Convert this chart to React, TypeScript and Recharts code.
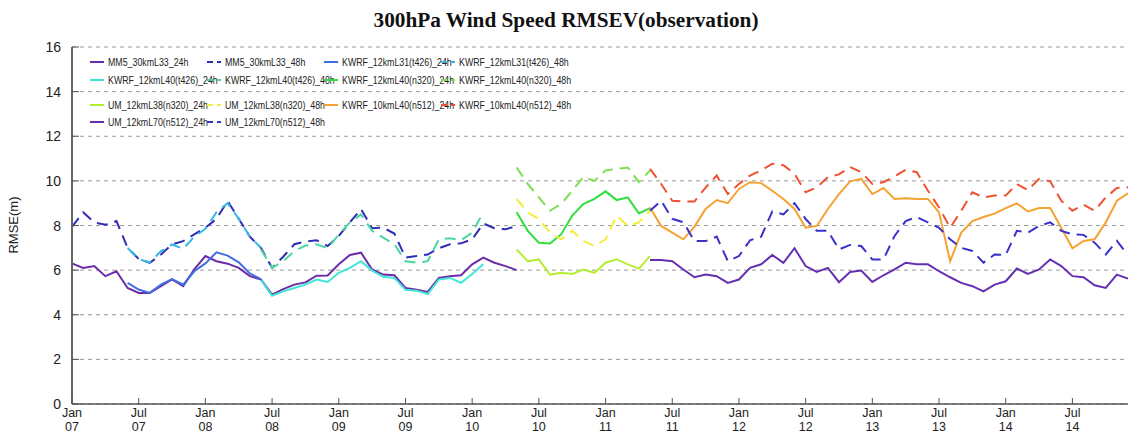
import React from 'react';
import { LineChart, Line, XAxis, YAxis, CartesianGrid } from 'recharts';

// monthly points, Jan 2007 (0) .. Dec 2014 (95)
const monthCount = 96;
const xTicks = [0, 6, 12, 18, 24, 30, 36, 42, 48, 54, 60, 66, 72, 78, 84, 90];
const xTickMonth = ['Jan', 'Jul', 'Jan', 'Jul', 'Jan', 'Jul', 'Jan', 'Jul', 'Jan', 'Jul', 'Jan', 'Jul', 'Jan', 'Jul', 'Jan', 'Jul'];
const xTickYear = ['07', '07', '08', '08', '09', '09', '10', '10', '11', '11', '12', '12', '13', '13', '14', '14'];
const yTicks = [0, 2, 4, 6, 8, 10, 12, 14, 16];

// each series starts at a month index and runs on
const mm5_24h = [6.3, 6.1, 6.18, 5.73, 5.95, 5.2, 4.98, 4.98, 5.28, 5.58, 5.28, 6.03, 6.63, 6.4, 6.29, 6.1, 5.73, 5.58, 4.9, 5.15, 5.35, 5.45, 5.75, 5.76, 6.26, 6.68, 6.78, 6.03, 5.8, 5.77, 5.2, 5.12, 5.02, 5.65, 5.73, 5.77, 6.26, 6.56, 6.33, 6.18, 6.0];
const mm5_48h = [7.94, 8.59, 8.14, 8.03, 8.2, 7.0, 6.5, 6.33, 6.7, 7.15, 7.3, 7.6, 7.9, 8.3, 9.1, 8.3, 7.5, 7.0, 6.1, 6.6, 7.16, 7.28, 7.34, 7.08, 7.53, 8.14, 8.74, 7.88, 7.9, 7.64, 6.56, 6.63, 6.7, 6.98, 7.16, 7.2, 7.38, 8.09, 7.88, 7.83, 7.98];
const kwrfL31_24h = [5.43, 5.13, 4.98, 5.35, 5.6, 5.35, 5.95, 6.3, 6.8, 6.65, 6.35, 5.85, 5.6];
const kwrfL31_48h = [6.99, 6.5, 6.33, 6.85, 7.15, 6.95, 7.5, 7.85, 8.6, 9.0, 8.3, 7.5, 7.0];
const kwrfL40t_24h = [5.55, 4.85, 5.05, 5.2, 5.35, 5.58, 5.47, 5.88, 6.1, 6.4, 5.98, 5.7, 5.65, 5.12, 5.08, 4.93, 5.58, 5.65, 5.43, 5.83, 6.26];
const kwrfL40t_48h = [6.93, 6.1, 6.4, 6.85, 7.1, 7.16, 6.98, 7.6, 8.14, 8.5, 7.76, 7.46, 7.16, 6.4, 6.33, 6.4, 7.38, 7.43, 7.34, 7.68, 8.59];
const kwrfL40n_24h = [8.59, 7.76, 7.23, 7.19, 7.6, 8.44, 8.96, 9.19, 9.53, 9.14, 9.26, 8.54, 8.78];
const kwrfL40n_48h = [10.6, 9.86, 9.26, 8.66, 8.96, 9.56, 10.17, 10.0, 10.47, 10.54, 10.6, 9.94, 10.47];
const umL38_24h = [6.93, 6.4, 6.48, 5.8, 5.88, 5.83, 6.03, 5.88, 6.33, 6.48, 6.26, 6.07, 6.63];
const umL38_48h = [9.19, 8.59, 8.29, 7.68, 7.38, 7.76, 7.31, 7.08, 7.38, 8.44, 7.98, 8.14, 8.66];
const kwrf10_24h = [8.81, 7.98, 7.68, 7.38, 7.95, 8.74, 9.14, 9.0, 9.64, 9.94, 9.9, 9.56, 9.19, 8.74, 7.9, 7.98, 8.74, 9.41, 9.98, 10.09, 9.41, 9.68, 9.19, 9.22, 9.19, 9.19, 8.59, 6.4, 7.68, 8.2, 8.38, 8.53, 8.78, 8.99, 8.63, 8.78, 8.78, 7.9, 6.98, 7.31, 7.38, 8.14, 9.11, 9.44];
const kwrf10_48h = [10.54, 9.86, 9.11, 9.08, 9.08, 9.7, 10.24, 9.41, 9.86, 10.24, 10.47, 10.77, 10.7, 10.32, 9.49, 9.71, 10.17, 10.29, 10.62, 10.39, 9.86, 9.94, 10.2, 10.5, 10.39, 9.56, 8.81, 7.9, 8.66, 9.49, 9.26, 9.34, 9.34, 9.86, 9.59, 10.09, 9.98, 9.11, 8.66, 8.93, 8.66, 9.26, 9.68, 9.71];
const umL70_24h = [6.45, 6.45, 6.4, 6.03, 5.68, 5.8, 5.73, 5.43, 5.58, 6.1, 6.26, 6.68, 6.33, 6.98, 6.18, 5.92, 6.1, 5.46, 5.92, 5.98, 5.47, 5.77, 6.03, 6.33, 6.26, 6.26, 5.95, 5.68, 5.43, 5.28, 5.05, 5.35, 5.5, 6.07, 5.83, 6.03, 6.48, 6.18, 5.73, 5.68, 5.32, 5.2, 5.8, 5.62];
const umL70_48h = [8.66, 9.11, 8.3, 8.15, 7.3, 7.3, 7.5, 6.4, 6.63, 7.34, 7.5, 8.63, 8.5, 9.0, 8.29, 7.76, 7.76, 6.93, 7.13, 7.08, 6.48, 6.48, 7.53, 8.2, 8.38, 8.14, 7.9, 7.38, 7.0, 6.86, 6.33, 6.7, 6.68, 7.76, 7.68, 7.98, 8.14, 7.76, 7.6, 7.58, 7.23, 6.7, 7.31, 6.68];

const series = [
  { key: 's1', name: 'MM5_30kmL33_24h', start: 0, values: mm5_24h, color: '#6c2ca8', dashed: false },
  { key: 's2', name: 'MM5_30kmL33_48h', start: 0, values: mm5_48h, color: '#2f2db8', dashed: true },
  { key: 's3', name: 'KWRF_12kmL31(t426)_24h', start: 5, values: kwrfL31_24h, color: '#3f6fe0', dashed: false },
  { key: 's4', name: 'KWRF_12kmL31(t426)_48h', start: 5, values: kwrfL31_48h, color: '#35b8e6', dashed: true },
  { key: 's5', name: 'KWRF_12kmL40(t426)_24h', start: 17, values: kwrfL40t_24h, color: '#3ee6d6', dashed: false },
  { key: 's6', name: 'KWRF_12kmL40(t426)_48h', start: 17, values: kwrfL40t_48h, color: '#48d6a2', dashed: true },
  { key: 's7', name: 'KWRF_12kmL40(n320)_24h', start: 40, values: kwrfL40n_24h, color: '#30de3c', dashed: false },
  { key: 's8', name: 'KWRF_12kmL40(n320)_48h', start: 40, values: kwrfL40n_48h, color: '#7ede52', dashed: true },
  { key: 's9', name: 'UM_12kmL38(n320)_24h', start: 40, values: umL38_24h, color: '#b6ee34', dashed: false },
  { key: 's10', name: 'UM_12kmL38(n320)_48h', start: 40, values: umL38_48h, color: '#f2ee3c', dashed: true },
  { key: 's11', name: 'KWRF_10kmL40(n512)_24h', start: 52, values: kwrf10_24h, color: '#f4a232', dashed: false },
  { key: 's12', name: 'KWRF_10kmL40(n512)_48h', start: 52, values: kwrf10_48h, color: '#ee5232', dashed: true },
  { key: 's13', name: 'UM_12kmL70(n512)_24h', start: 52, values: umL70_24h, color: '#6430b2', dashed: false },
  { key: 's14', name: 'UM_12kmL70(n512)_48h', start: 52, values: umL70_48h, color: '#3a30cc', dashed: true },
];

const data = Array.from({ length: monthCount }, (_, i) => {
  const row: any = { i };
  series.forEach((s) => {
    const k = i - s.start;
    row[s.key] = k >= 0 && k < s.values.length ? s.values[k] : null;
  });
  return row;
});

const XTick = ({ x, y, payload }: any) => {
  const k = xTicks.indexOf(payload.value);
  return (
    <g transform={`translate(${x},${y})`}>
      <line x1={0} y1={0} x2={0} y2={-6} stroke="#555" />
      <text y={13} textAnchor="middle" fontSize={12.5} fill="#222">{xTickMonth[k]}</text>
      <text y={27} textAnchor="middle" fontSize={12.5} fill="#222">{xTickYear[k]}</text>
    </g>
  );
};

const YTick = ({ x, y, payload }: any) => (
  <g>
    <line x1={x} y1={y} x2={x + 7} y2={y} stroke="#555" />
    <text x={x - 11} y={y + 5} textAnchor="end" fontSize={14} fill="#222">{payload.value}</text>
  </g>
);

// legend rows/cols in pixel space (overlay)
const legendCols = [90, 207, 324, 441];
const legendRows = [62, 80, 105, 122];

export default function App() {
  return (
    <div style={{ position: 'absolute', left: 0, top: 0, width: 1131, height: 435, background: '#fff', fontFamily: '"Liberation Sans", Arial, sans-serif' }}>
      <LineChart width={1131} height={435} data={data} margin={{ top: 47, right: 3, left: 0, bottom: 0 }}>
        <CartesianGrid horizontal vertical={false} stroke="#9a9a9a" strokeDasharray="4 4" yAxisId="l" />
        <XAxis
          dataKey="i"
          type="number"
          domain={[0, 95]}
          ticks={xTicks}
          interval={0}
          height={31}
          tickSize={0}
          tickMargin={0}
          tick={<XTick />}
          axisLine={{ stroke: '#555', strokeWidth: 1.5 }}
          tickLine={false}
        />
        <YAxis
          yAxisId="l"
          domain={[0, 16]}
          ticks={yTicks}
          width={72}
          tickSize={0}
          tickMargin={0}
          tick={<YTick />}
          axisLine={{ stroke: '#666', strokeWidth: 2 }}
          tickLine={false}
        />
        <YAxis yAxisId="r" orientation="right" width={0} domain={[0, 16]} tick={false} axisLine={{ stroke: '#777', strokeWidth: 1.5 }} />
        {series.map((s) => (
          <Line
            key={s.key}
            yAxisId="l"
            dataKey={s.key}
            name={s.name}
            stroke={s.color}
            strokeWidth={2}
            strokeDasharray={s.dashed ? '11 7' : undefined}
            dot={false}
            type="linear"
            isAnimationActive={false}
          />
        ))}
      </LineChart>
      <svg width={1131} height={435} style={{ position: 'absolute', left: 0, top: 0, pointerEvents: 'none' }}>
        <text x={566} y={27} textAnchor="middle" fontSize={20} fontWeight="bold" fontFamily='"Liberation Serif", serif' fill="#111" textLength={385} lengthAdjust="spacingAndGlyphs">
          300hPa Wind Speed RMSEV(observation)
        </text>
        <text x={18} y={225} transform="rotate(-90 18 225)" textAnchor="middle" fontSize={13} fill="#222">RMSE(m)</text>
        {series.map((s, n) => {
          const cx = legendCols[n % 4];
          const cy = legendRows[Math.floor(n / 4)];
          return (
            <g key={s.key}>
              <line x1={cx} y1={cy} x2={cx + 14} y2={cy} stroke={s.color} strokeWidth={2} strokeDasharray={s.dashed ? '6 4' : undefined} />
              <g transform={`translate(${cx + 18},${cy + 4}) scale(0.84,1)`}>
                <text x={0} y={0} fontSize={10.5} fill="#222">{s.name}</text>
              </g>
            </g>
          );
        })}
      </svg>
    </div>
  );
}
